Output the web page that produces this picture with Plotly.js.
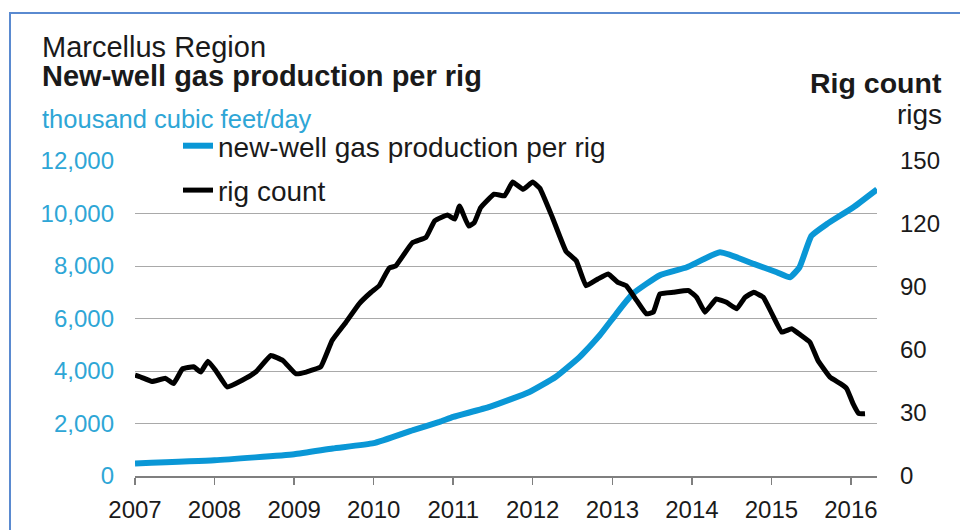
<!DOCTYPE html>
<html>
<head>
<meta charset="utf-8">
<script src="https://cdn.plot.ly/plotly-3.0.1.min.js"></script>
<style>
  html, body { margin: 0; padding: 0; background: #fff; }
  #wrap { position: relative; width: 960px; height: 530px; overflow: hidden; }
  #chart { position: absolute; left: 0; top: 0; width: 960px; height: 530px; }
  #frame { position: absolute; left: 9px; top: 12px; width: 1000px; height: 600px;
           border-left: 2px solid #5a8ad0; border-top: 2px solid #5a8ad0; pointer-events: none; }
</style>
</head>
<body>
<div id="wrap">
  <div id="chart"></div>
  <div id="frame"></div>
</div>
<script>
// ---- data ----
const gasDates = ['2007-01-01','2008-01-01','2009-01-01','2009-06-27','2010-01-01','2010-07-01',
  '2010-10-30','2011-01-01','2011-06-17','2011-12-17','2012-04-15','2012-08-03','2012-11-03',
  '2013-01-19','2013-04-04','2013-08-07','2013-12-09','2014-05-10','2014-10-12','2015-01-26',
  '2015-03-27','2015-05-10','2015-07-04','2015-09-13','2016-01-11','2016-04-30'];
const gasValues = [480,600,830,1050,1250,1750,
  2060,2250,2630,3200,3770,4530,5350,
  6180,6940,7650,7950,8520,8080,7760,
  7570,7950,9150,9600,10230,10920];

const rigDates = ['2007-01-01','2007-01-30','2007-03-20','2007-05-21','2007-06-27','2007-08-07',
  '2007-09-27','2007-10-30','2007-12-02','2008-01-08','2008-02-28','2008-05-07','2008-07-08',
  '2008-09-16','2008-11-10','2009-01-08','2009-02-25','2009-05-03','2009-06-24','2009-08-25',
  '2009-10-26','2009-12-20','2010-01-26','2010-03-13','2010-04-12','2010-06-27','2010-08-29',
  '2010-10-08','2010-12-06','2011-01-08','2011-01-30','2011-03-13','2011-04-08','2011-05-07',
  '2011-07-08','2011-08-25','2011-10-01','2011-11-18','2012-01-01','2012-02-03','2012-04-01',
  '2012-06-02','2012-07-19','2012-09-02','2012-10-26','2012-12-13','2013-01-26','2013-03-06',
  '2013-04-23','2013-06-06','2013-07-08','2013-08-07','2013-10-08','2013-12-17','2014-01-23',
  '2014-03-02','2014-04-23','2014-06-09','2014-07-26','2014-09-02','2014-10-12','2014-11-25',
  '2015-01-04','2015-02-18','2015-04-04','2015-05-18','2015-06-27','2015-08-03','2015-09-27',
  '2015-11-14','2015-12-13','2016-01-11','2016-02-07','2016-03-06'];
const rigValues = [48,47,45,46.5,44,51,
  52,49.5,54.7,50,42.4,45.6,49.5,
  57.4,55,48.7,49.5,52,64.5,73,
  82,87.5,90.6,99,100,111,113.6,
  121.5,124.3,122.3,128.6,119,120.7,127.8,
  134.2,133.4,140,136.5,140,137,123,
  107,102.5,90.6,93.8,96.2,92.2,90.6,
  83.5,77.2,78,86.7,87.5,88.3,85.1,
  78,84.3,82.7,79.6,85.1,87.5,85.1,
  77.2,68.5,70.1,66.9,63.7,55,47.1,
  44,41.6,34.5,29.7,29.7];

const yearTicks = ['2007','2008','2009','2010','2011','2012','2013','2014','2015','2016'];
const gasTicks = [0,2000,4000,6000,8000,10000,12000];
const gasTickText = ['0','2,000','4,000','6,000','8,000','10,000','12,000'];
const rigTicks = [0,30,60,90,120,150];

const seriesNames = ['new-well gas production per rig','rig count'];
const titleLine1 = 'Marcellus Region';
const titleLine2 = 'New-well gas production per rig';
const leftUnit = 'thousand cubic feet/day';
const rightTitle = 'Rig count';
const rightUnit = 'rigs';

// ---- layout geometry ----
const W = 960, H = 530;
const M = {l: 135, r: 83, t: 161, b: 54};
const PW = W - M.l - M.r, PH = H - M.t - M.b;
const px = x => (x - M.l) / PW;
const py = y => (H - M.b - y) / PH;
const FONT = '"Liberation Sans", Arial, sans-serif';
const BLUE = '#0a97d6';
const LBLUE = '#2ea6d6';

const traces = [
  {x: gasDates, y: gasValues, name: seriesNames[0], type: 'scatter', mode: 'lines',
   line: {color: BLUE, width: 6, shape: 'spline', smoothing: 0.4}, yaxis: 'y', legendgroup: 'a'},
  {x: rigDates, y: rigValues, name: seriesNames[1], type: 'scatter', mode: 'lines',
   line: {color: '#000000', width: 5, shape: 'spline', smoothing: 0.3}, yaxis: 'y2', legendgroup: 'b'}
];

const layout = {
  width: W, height: H,
  margin: M,
  paper_bgcolor: '#ffffff', plot_bgcolor: 'rgba(0,0,0,0)',
  font: {family: FONT, size: 24, color: '#1a1a1a'},
  showlegend: true,
  legend: {x: px(178), y: py(121), xanchor: 'left', yanchor: 'top',
           bgcolor: 'rgba(0,0,0,0)', borderwidth: 0, tracegroupgap: 5,
           font: {family: FONT, size: 28, color: '#1a1a1a'}},
  xaxis: {type: 'date', range: ['2007-01-01', '2016-04-30'],
          tickvals: yearTicks.map(y => y + '-01-01'), ticktext: yearTicks,
          showgrid: false, zeroline: false,
          showline: true, linecolor: '#7f7f7f', linewidth: 1.5,
          ticks: 'outside', ticklen: 7, tickwidth: 1.5, tickcolor: '#7f7f7f',
          ticklabelstandoff: 5,
          tickfont: {family: FONT, size: 24, color: '#1a1a1a'}},
  yaxis: {range: [0, 12000], tickvals: gasTicks, ticktext: gasTickText,
          showgrid: true, gridcolor: '#a9a9a9', gridwidth: 1,
          zeroline: false, showline: false, ticks: '',
          ticklabelstandoff: 20,
          tickfont: {family: FONT, size: 24, color: LBLUE}},
  yaxis2: {range: [0, 150], tickvals: rigTicks, overlaying: 'y', side: 'right',
           showgrid: false, zeroline: false, showline: false, ticks: '',
           ticklabelstandoff: 22,
           tickfont: {family: FONT, size: 24, color: '#1a1a1a'}},
  annotations: [
    {text: titleLine1, xref: 'paper', yref: 'paper', x: px(40), y: py(47),
     xanchor: 'left', yanchor: 'middle', showarrow: false,
     font: {family: FONT, size: 29, color: '#1a1a1a'}},
    {text: '<b>' + titleLine2 + '</b>', xref: 'paper', yref: 'paper', x: px(40), y: py(76),
     xanchor: 'left', yanchor: 'middle', showarrow: false,
     font: {family: FONT, size: 29, color: '#1a1a1a'}},
    {text: leftUnit, xref: 'paper', yref: 'paper', x: px(40), y: py(119),
     xanchor: 'left', yanchor: 'middle', showarrow: false,
     font: {family: FONT, size: 25.5, color: LBLUE}},
    {text: '<b>' + rightTitle + '</b>', xref: 'paper', yref: 'paper', x: px(944), y: py(83),
     xanchor: 'right', yanchor: 'middle', showarrow: false,
     font: {family: FONT, size: 28.5, color: '#1a1a1a'}},
    {text: rightUnit, xref: 'paper', yref: 'paper', x: px(944), y: py(114),
     xanchor: 'right', yanchor: 'middle', showarrow: false,
     font: {family: FONT, size: 28, color: '#1a1a1a'}}
  ]
};

Plotly.newPlot('chart', traces, layout, {staticPlot: true, displayModeBar: false});
</script>
</body>
</html>
